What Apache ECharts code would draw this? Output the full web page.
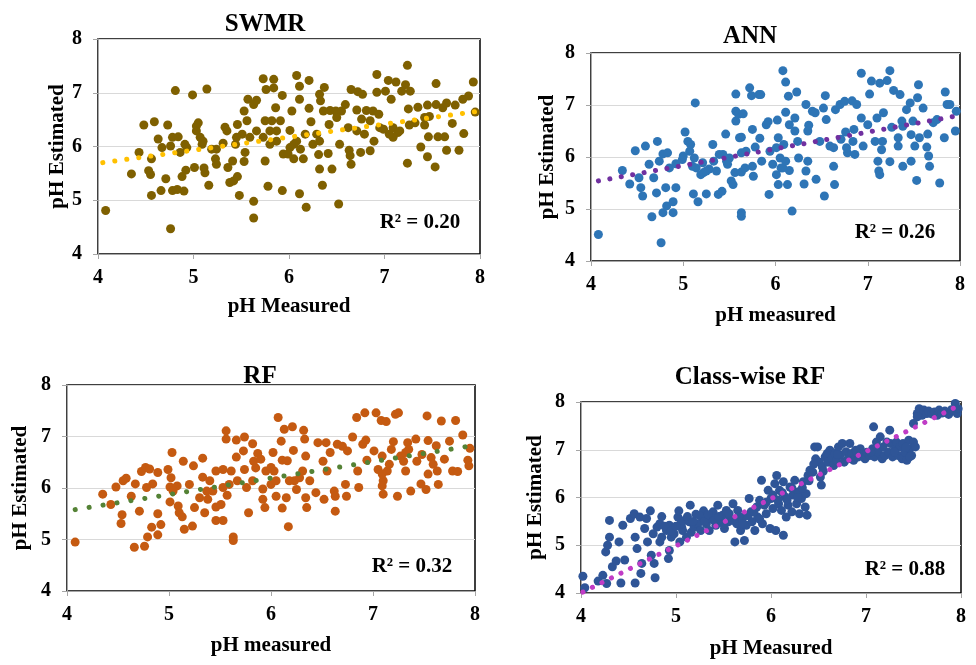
<!DOCTYPE html>
<html>
<head>
<meta charset="utf-8">
<script src="https://cdn.jsdelivr.net/npm/echarts@6/dist/echarts.min.js"></script>
<style>
    html, body { margin: 0; padding: 0; background: #fff; }
    #chart { width: 976px; height: 665px; }
</style>
</head>
<body>
<div id="chart"></div>
<script>
//panel titles and axis names
const titles = ["SWMR", "ANN", "RF", "Class-wise RF"];
const xNames = ["pH Measured", "pH measured", "pH measured", "pH Measured"];
const yName = "pH Estimated";
const r2Labels = ["R² = 0.20", "R² = 0.26", "R² = 0.32", "R² = 0.88"];
const ticks = [4, 5, 6, 7, 8];

//SWMR - [measured, estimated]
const swmrPoints = [
    [4.08, 4.81], [4.76, 4.47], [4.35, 5.49], [4.56, 5.77], [4.55, 5.48], [4.53, 5.55], [4.43, 5.89], [4.48, 6.40],
    [4.59, 6.46], [4.73, 6.40], [4.81, 7.04], [4.63, 6.14], [4.67, 5.98], [4.76, 6.01], [4.78, 6.17], [4.84, 6.18],
    [4.86, 5.89], [4.91, 6.04], [4.93, 5.98], [4.56, 5.09], [4.66, 5.18], [4.71, 5.40], [4.78, 5.18], [4.83, 5.20],
    [4.90, 5.17], [4.88, 5.44], [4.92, 5.56], [4.99, 6.96], [5.01, 5.61], [5.03, 6.29], [5.03, 6.38], [5.05, 6.44],
    [5.07, 6.17], [5.09, 6.04], [5.10, 6.10], [5.14, 7.07], [5.11, 5.60], [5.12, 5.51], [5.16, 5.28], [5.19, 5.95],
    [5.23, 5.77], [5.24, 5.67], [5.31, 6.06], [5.33, 6.36], [5.36, 5.61], [5.38, 5.33], [5.42, 5.36], [5.41, 5.73],
    [5.44, 6.04], [5.46, 6.41], [5.46, 5.44], [5.48, 5.09], [5.53, 6.66], [5.54, 5.89], [5.53, 5.72], [5.56, 6.48],
    [5.57, 6.88], [5.63, 6.78], [5.66, 6.86], [5.63, 4.98], [5.63, 4.67], [5.73, 7.26], [5.75, 6.48], [5.75, 5.73],
    [5.76, 7.06], [5.78, 5.26], [5.80, 6.04], [5.82, 6.48], [5.84, 7.25], [5.84, 7.09], [5.86, 6.72], [5.87, 6.29],
    [5.91, 6.48], [5.93, 6.95], [5.93, 5.18], [5.94, 5.86], [6.01, 6.30], [6.03, 6.66], [6.05, 6.04], [6.05, 5.77],
    [6.08, 7.32], [6.11, 7.12], [6.11, 6.88], [6.11, 5.12], [6.15, 5.77], [6.17, 6.23], [6.18, 4.87], [6.21, 6.71],
    [6.21, 7.23], [6.23, 6.46], [6.25, 6.04], [6.31, 5.85], [6.32, 6.97], [6.33, 6.85], [6.32, 5.58], [6.35, 5.28],
    [6.37, 7.10], [6.41, 5.87], [6.42, 6.41], [6.43, 6.67], [6.45, 5.58], [6.49, 6.66], [6.53, 6.04], [6.52, 4.93],
    [6.55, 6.66], [6.59, 6.78], [6.62, 6.35], [6.63, 5.93], [6.64, 5.83], [6.65, 5.67], [6.65, 7.06], [6.71, 6.68],
    [6.72, 7.02], [6.77, 6.97], [6.76, 6.51], [6.75, 5.89], [6.79, 6.23], [6.81, 6.67], [6.85, 5.92], [6.88, 6.66],
    [6.89, 6.10], [6.92, 7.34], [6.92, 7.01], [6.94, 6.60], [7.01, 7.03], [7.04, 7.23], [7.07, 6.88], [7.09, 6.35],
    [7.09, 6.17], [7.12, 7.20], [7.14, 6.26], [7.18, 7.03], [7.22, 7.15], [7.24, 7.51], [7.25, 6.70], [7.24, 5.69],
    [7.27, 7.03], [7.32, 6.44], [7.35, 6.73], [7.38, 5.99], [7.42, 6.40], [7.45, 6.77], [7.45, 5.81], [7.46, 6.18],
    [7.53, 5.62], [7.54, 7.17], [7.54, 6.78], [7.56, 6.18], [7.61, 6.72], [7.63, 6.18], [7.65, 5.93], [7.65, 6.81],
    [7.71, 6.43], [7.74, 6.77], [7.78, 5.93], [7.82, 6.88], [7.83, 6.24], [7.88, 6.94], [7.93, 7.20], [7.95, 6.64],
    [7.42, 6.54], [7.26, 6.40], [7.47, 6.56], [7.16, 6.29], [7.05, 6.23], [6.99, 6.32], [5.80, 6.29], [5.73, 6.17],
    [6.01, 5.98], [6.08, 6.10], [6.12, 5.95], [5.99, 5.86], [5.87, 6.10], [5.66, 6.29], [5.59, 6.17], [5.51, 6.23],
    [5.45, 6.17], [5.35, 6.29], [5.24, 5.95], [6.36, 6.66], [6.50, 6.54], [6.71, 6.29], [6.85, 6.48], [6.95, 6.35],
    [6.29, 6.23], [6.32, 6.10]
];

//ANN - [measured, estimated]
const annPoints = [
    [4.08, 4.51], [4.76, 4.35], [4.34, 5.74], [4.42, 5.48], [4.48, 6.12], [4.52, 5.60], [4.54, 5.41], [4.56, 5.25],
    [4.59, 6.21], [4.63, 5.86], [4.66, 4.85], [4.68, 5.60], [4.71, 5.31], [4.72, 6.30], [4.74, 5.92], [4.78, 4.93],
    [4.81, 5.41], [4.82, 5.06], [4.78, 6.06], [4.83, 6.08], [4.89, 4.93], [4.89, 5.14], [4.92, 5.41], [4.85, 5.79],
    [4.92, 5.87], [4.99, 5.95], [5.00, 6.02], [5.02, 6.48], [5.05, 6.30], [5.07, 6.11], [5.08, 6.24], [5.10, 5.82],
    [5.11, 5.29], [5.13, 7.04], [5.14, 5.79], [5.16, 5.14], [5.19, 5.66], [5.22, 5.70], [5.25, 5.29], [5.28, 5.77],
    [5.32, 6.24], [5.33, 5.92], [5.36, 5.73], [5.38, 5.28], [5.42, 5.34], [5.43, 6.05], [5.46, 6.44], [5.48, 5.86],
    [5.50, 5.98], [5.52, 5.54], [5.54, 5.47], [5.56, 5.70], [5.57, 7.21], [5.57, 6.88], [5.57, 6.69], [5.60, 6.82],
    [5.63, 6.38], [5.63, 6.08], [5.63, 5.71], [5.63, 4.93], [5.63, 4.86], [5.65, 6.83], [5.68, 6.11], [5.72, 7.33],
    [5.74, 7.18], [5.75, 6.53], [5.75, 5.82], [5.76, 5.63], [5.78, 6.19], [5.82, 7.20], [5.84, 7.20], [5.83, 6.36],
    [5.85, 5.92], [5.90, 6.62], [5.92, 6.68], [5.93, 5.28], [5.94, 6.11], [5.97, 5.86], [6.01, 6.18], [6.02, 6.71],
    [6.03, 6.37], [6.03, 5.47], [6.05, 5.98], [6.06, 5.79], [6.08, 7.66], [6.09, 6.24], [6.11, 7.44], [6.11, 6.86],
    [6.13, 5.47], [6.14, 7.17], [6.15, 5.74], [6.15, 6.62], [6.18, 4.96], [6.21, 6.50], [6.23, 7.25], [6.24, 6.30],
    [6.25, 5.98], [6.21, 6.75], [6.31, 5.48], [6.33, 7.01], [6.33, 5.73], [6.35, 6.50], [6.36, 6.61], [6.35, 5.92],
    [6.40, 6.88], [6.43, 6.85], [6.44, 5.57], [6.48, 6.30], [6.53, 5.25], [6.52, 6.94], [6.54, 7.18], [6.55, 6.72],
    [6.59, 6.21], [6.63, 5.82], [6.64, 5.47], [6.65, 6.91], [6.70, 7.01], [6.71, 6.34], [6.75, 7.07], [6.76, 6.48],
    [6.78, 6.08], [6.83, 7.08], [6.85, 6.53], [6.86, 6.05], [6.88, 7.01], [6.93, 7.61], [6.93, 6.75], [6.95, 6.21],
    [7.00, 6.62], [7.02, 7.21], [7.04, 7.46], [7.08, 6.30], [7.10, 6.75], [7.11, 5.92], [7.12, 5.73], [7.13, 7.42],
    [7.15, 6.14], [7.17, 6.85], [7.21, 7.47], [7.24, 7.66], [7.24, 5.91], [7.26, 6.57], [7.28, 7.28], [7.33, 6.37],
    [7.33, 6.21], [7.35, 7.20], [7.38, 6.59], [7.38, 5.82], [7.42, 6.91], [7.46, 7.04], [7.47, 5.92], [7.47, 6.43],
    [7.51, 6.21], [7.53, 5.55], [7.54, 7.14], [7.55, 7.39], [7.56, 6.37], [7.60, 6.94], [7.64, 6.19], [7.66, 6.02],
    [7.67, 5.82], [7.65, 6.44], [7.71, 6.66], [7.78, 5.50], [7.83, 6.37], [7.84, 7.25], [7.86, 7.01], [7.89, 7.01],
    [7.95, 6.50], [7.96, 6.88], [7.75, 6.72], [7.49, 6.69], [7.37, 6.69], [7.13, 5.66], [7.16, 6.30], [6.84, 6.30],
    [6.77, 6.18], [6.63, 6.18], [6.01, 5.66], [6.08, 5.79], [6.11, 5.92], [5.67, 5.79], [5.61, 6.37], [5.39, 6.05],
    [5.47, 5.92], [5.21, 5.89], [5.25, 5.73], [5.12, 5.98]
];

//RF - [measured, estimated]
const rfPoints = [
    [4.08, 4.95], [4.35, 5.88], [4.43, 5.68], [4.48, 6.02], [4.55, 6.14], [4.58, 6.19], [4.54, 5.48], [4.53, 5.31],
    [4.63, 5.84], [4.66, 4.85], [4.67, 6.08], [4.71, 5.55], [4.73, 6.32], [4.76, 4.87], [4.77, 6.40], [4.79, 5.05],
    [4.81, 6.37], [4.83, 5.24], [4.84, 6.08], [4.89, 6.30], [4.89, 5.50], [4.89, 5.09], [4.92, 5.29], [4.99, 6.36],
    [5.01, 6.02], [5.01, 5.73], [5.02, 6.20], [5.03, 6.69], [5.08, 6.04], [5.09, 5.65], [5.10, 5.52], [5.13, 5.44],
    [5.14, 6.52], [5.15, 5.20], [5.20, 6.07], [5.23, 5.26], [5.24, 6.43], [5.25, 5.62], [5.30, 5.81], [5.33, 6.58],
    [5.33, 6.21], [5.35, 5.52], [5.38, 5.78], [5.40, 6.14], [5.43, 5.94], [5.46, 6.33], [5.46, 5.63], [5.46, 5.37],
    [5.51, 5.68], [5.53, 5.37], [5.53, 6.36], [5.56, 7.11], [5.56, 6.95], [5.57, 5.86], [5.61, 6.33], [5.63, 5.05],
    [5.63, 4.98], [5.66, 6.93], [5.66, 6.60], [5.67, 6.14], [5.73, 6.72], [5.74, 6.99], [5.74, 6.36], [5.76, 6.01],
    [5.78, 5.52], [5.82, 6.86], [5.83, 6.52], [5.85, 6.39], [5.87, 6.67], [5.90, 6.56], [5.92, 5.78], [5.94, 5.62],
    [5.95, 6.33], [6.00, 6.07], [6.02, 6.69], [6.03, 6.33], [6.05, 5.84], [6.07, 7.37], [6.10, 6.91], [6.11, 6.54],
    [6.11, 5.61], [6.13, 7.14], [6.15, 5.81], [6.16, 6.53], [6.17, 5.25], [6.21, 7.19], [6.22, 6.73], [6.23, 6.14],
    [6.25, 5.97], [6.31, 6.33], [6.32, 7.12], [6.33, 6.95], [6.34, 6.62], [6.34, 5.81], [6.35, 5.62], [6.38, 6.14],
    [6.44, 5.91], [6.46, 6.88], [6.51, 6.52], [6.52, 5.78], [6.54, 6.88], [6.55, 6.33], [6.58, 6.69], [6.62, 5.94],
    [6.63, 5.55], [6.63, 5.84], [6.65, 6.85], [6.70, 6.81], [6.73, 6.07], [6.74, 5.84], [6.75, 6.72], [6.80, 6.99],
    [6.84, 7.37], [6.85, 6.33], [6.86, 6.01], [6.90, 6.85], [6.92, 7.46], [6.93, 6.93], [6.94, 6.54], [7.01, 6.72],
    [7.03, 7.46], [7.05, 6.36], [7.08, 7.31], [7.09, 6.62], [7.10, 6.14], [7.10, 5.88], [7.13, 7.29], [7.14, 6.33],
    [7.18, 6.75], [7.20, 6.90], [7.22, 7.43], [7.24, 5.84], [7.25, 7.46], [7.27, 6.62], [7.30, 6.52], [7.32, 6.33],
    [7.34, 6.88], [7.35, 6.75], [7.37, 5.94], [7.42, 6.95], [7.43, 6.52], [7.47, 6.08], [7.52, 5.97], [7.53, 7.40],
    [7.54, 6.92], [7.54, 6.27], [7.57, 6.59], [7.62, 6.82], [7.63, 6.33], [7.64, 6.07], [7.67, 7.30], [7.70, 6.56],
    [7.75, 6.91], [7.78, 6.33], [7.81, 7.31], [7.83, 6.32], [7.88, 7.03], [7.93, 6.54], [7.94, 6.43], [7.95, 6.77],
    [7.09, 6.27], [7.09, 6.04], [7.16, 6.46], [7.32, 6.69], [7.48, 6.65], [7.59, 6.46], [6.00, 6.40], [6.05, 6.14],
    [6.18, 6.14], [6.28, 6.20], [5.92, 5.98], [5.82, 6.14], [5.59, 6.07], [5.53, 6.01], [5.37, 5.94], [5.04, 5.94],
    [4.78, 6.01]
];

//Class-wise RF - [measured, estimated]
const classRfPoints = [
    [4.02, 4.35], [4.04, 4.11], [4.18, 4.25], [4.23, 4.37], [4.27, 4.20], [4.26, 4.86], [4.28, 5.00], [4.30, 5.52],
    [4.30, 5.17], [4.33, 4.55], [4.37, 4.67], [4.40, 5.07], [4.42, 4.21], [4.44, 5.42], [4.46, 4.69], [4.52, 5.56],
    [4.56, 5.66], [4.57, 5.17], [4.57, 4.21], [4.59, 4.93], [4.62, 5.59], [4.63, 4.41], [4.64, 4.62], [4.67, 5.35],
    [4.69, 5.56], [4.70, 5.07], [4.73, 5.72], [4.74, 4.79], [4.76, 5.24], [4.77, 4.62], [4.78, 4.32], [4.80, 5.38],
    [4.83, 5.45], [4.83, 5.07], [4.85, 5.17], [4.90, 5.31], [4.92, 4.72], [4.93, 4.89], [4.93, 5.42], [4.95, 5.17],
    [4.98, 5.24], [5.02, 5.59], [5.03, 5.72], [5.04, 5.07], [5.06, 5.38], [5.07, 5.31], [5.09, 5.52], [5.11, 5.17],
    [5.14, 5.49], [5.15, 5.84], [5.16, 5.27], [5.19, 5.38], [5.21, 5.65], [5.23, 5.45], [5.26, 5.31], [5.28, 5.59],
    [5.29, 5.72], [5.32, 5.45], [5.35, 5.31], [5.37, 5.56], [5.39, 5.70], [5.42, 5.42], [5.44, 5.84], [5.47, 5.49],
    [5.49, 5.63], [5.51, 5.35], [5.53, 5.73], [5.55, 5.49], [5.57, 5.56], [5.60, 5.87], [5.62, 5.07], [5.64, 5.45],
    [5.65, 5.73], [5.68, 5.31], [5.71, 5.59], [5.72, 5.10], [5.74, 5.42], [5.77, 5.98], [5.79, 5.70], [5.80, 5.49],
    [5.83, 5.31], [5.85, 5.80], [5.86, 5.59], [5.88, 5.94], [5.90, 6.36], [5.91, 5.45], [5.93, 5.84], [5.95, 5.66],
    [5.97, 6.15], [5.99, 5.35], [6.00, 5.98], [6.02, 5.77], [6.04, 6.29], [6.05, 5.31], [6.06, 6.46], [6.08, 5.87],
    [6.09, 6.15], [6.11, 5.73], [6.13, 5.21], [6.13, 6.33], [6.15, 6.01], [6.16, 5.59], [6.18, 5.84], [6.20, 6.22],
    [6.22, 5.70], [6.23, 6.05], [6.25, 6.36], [6.27, 5.87], [6.29, 6.12], [6.30, 5.66], [6.32, 5.98], [6.34, 6.33],
    [6.36, 5.80], [6.37, 6.08], [6.38, 5.63], [6.39, 6.46], [6.41, 6.57], [6.44, 6.53], [6.46, 7.06], [6.47, 6.81],
    [6.49, 7.06], [6.51, 6.74], [6.52, 6.43], [6.53, 6.26], [6.54, 6.64], [6.57, 6.85], [6.59, 6.92], [6.60, 6.74],
    [6.62, 6.99], [6.64, 6.81], [6.66, 6.67], [6.67, 6.92], [6.69, 6.78], [6.71, 7.06], [6.73, 6.89], [6.75, 7.13],
    [6.77, 6.74], [6.79, 6.96], [6.81, 6.81], [6.83, 7.13], [6.85, 6.92], [6.87, 6.78], [6.89, 6.99], [6.92, 6.85],
    [6.94, 7.02], [6.97, 6.92], [6.99, 6.81], [7.01, 6.95], [7.04, 6.88], [7.07, 7.02], [7.08, 7.48], [7.09, 6.85],
    [7.11, 7.16], [7.13, 6.95], [7.15, 7.27], [7.17, 6.81], [7.18, 7.06], [7.20, 6.88], [7.22, 7.16], [7.24, 6.95],
    [7.25, 7.41], [7.26, 7.13], [7.28, 6.85], [7.31, 7.02], [7.32, 7.16], [7.34, 6.88], [7.36, 7.06], [7.38, 6.81],
    [7.39, 7.13], [7.41, 6.95], [7.43, 6.78], [7.45, 7.20], [7.46, 7.02], [7.48, 6.88], [7.50, 7.16], [7.52, 7.06],
    [7.46, 6.85], [7.54, 7.76], [7.56, 7.86], [7.59, 7.72], [7.61, 7.83], [7.64, 7.76], [7.66, 7.81], [7.69, 7.75],
    [7.72, 7.79], [7.75, 7.72], [7.77, 7.83], [7.80, 7.77], [7.83, 7.81], [7.87, 7.74], [7.90, 7.84], [7.94, 7.97],
    [7.96, 7.76], [7.97, 7.86], [7.54, 7.69], [7.50, 7.55],
    [5.05, 5.45], [5.12, 5.60], [5.18, 5.50], [5.25, 5.62], [5.30, 5.50], [5.34, 5.64], [5.40, 5.52], [5.45, 5.60],
    [5.50, 5.45], [5.56, 5.66], [5.60, 5.52], [5.66, 5.60], [5.70, 5.45], [5.76, 5.62], [5.82, 5.70], [5.88, 5.55],
    [5.95, 5.90], [6.02, 6.05], [6.07, 5.95], [6.12, 6.10], [6.17, 5.95], [6.22, 6.20], [6.28, 6.00], [6.33, 6.20],
    [6.40, 6.35], [6.45, 6.70], [6.55, 6.55], [6.70, 6.90], [6.90, 6.95], [7.05, 6.95], [7.30, 6.95], [7.42, 7.05],
    [4.88, 5.40], [4.95, 5.30], [4.85, 5.60], [5.00, 5.40]
];

//linear trend lines - start / end points
const swmrTrend = [[4.05, 5.70], [8.0, 6.66]];
const annTrend = [[4.08, 5.54], [8.0, 6.80]];
const rfTrend = [[4.08, 5.58], [8.0, 6.83]];
const classRfTrend = [[4.02, 4.02], [7.96, 7.91]];

//panel layout and colours
const font = "Liberation Serif";
const panels = [
    { points: swmrPoints, trend: swmrTrend, dot: "#7F6000", line: "#FFC000",
      grid: { left: 98, top: 39, width: 382, height: 215 }, title: [260, 7], r2: [420, 223], xGap: 42, yGap: 28, dash: [0.1, 12] },
    { points: annPoints, trend: annTrend, dot: "#2E75B6", line: "#7030A0",
      grid: { left: 591, top: 53, width: 369, height: 208 }, title: [745, 19], r2: [895, 233], xGap: 44, yGap: 33, dash: [0.1, 11.5] },
    { points: rfPoints, trend: rfTrend, dot: "#C55A11", line: "#548235",
      grid: { left: 67, top: 385, width: 408, height: 206 }, title: [255, 359], r2: [412, 567], xGap: 44, yGap: 36, dash: [0.1, 14] },
    { points: classRfPoints, trend: classRfTrend, dot: "#2F5597", line: "#C03CC6",
      grid: { left: 581, top: 402, width: 380, height: 191 }, title: [745, 360], r2: [905, 570], xGap: 45, yGap: 35, dash: [0.1, 10.5] }
];

const chart = echarts.init(document.getElementById("chart"), null, { renderer: "canvas" });

const boldText = (size) => ({ fontFamily: font, fontWeight: "bold", fontSize: size, color: "#000" });

const option = {
    animation: false,
    backgroundColor: "#fff",
    title: panels.map((p, i) => ({
        text: titles[i],
        left: p.title[0],
        top: p.title[1],
        textAlign: "center",
        textStyle: boldText(25)
    })),
    grid: panels.map(p => Object.assign({ show: true, borderColor: "#000", borderWidth: 1.5, backgroundColor: "#fff" }, p.grid)),
    xAxis: panels.map((p, i) => ({
        gridIndex: i,
        type: "value",
        min: ticks[0],
        max: ticks[ticks.length - 1],
        interval: 1,
        name: xNames[i],
        nameLocation: "middle",
        nameGap: p.xGap,
        nameTextStyle: boldText(21),
        axisLine: { show: true, onZero: false, lineStyle: { color: "#A6A6A6", width: 1 } },
        axisTick: { show: true, length: 5, lineStyle: { color: "#A6A6A6" } },
        axisLabel: Object.assign({ margin: 14 }, boldText(20)),
        splitLine: { show: false }
    })),
    yAxis: panels.map((p, i) => ({
        gridIndex: i,
        type: "value",
        min: ticks[0],
        max: ticks[ticks.length - 1],
        interval: 1,
        name: yName,
        nameLocation: "middle",
        nameGap: p.yGap,
        nameTextStyle: boldText(21),
        axisLine: { show: true, onZero: false, lineStyle: { color: "#A6A6A6", width: 1 } },
        axisTick: { show: true, length: 5, lineStyle: { color: "#A6A6A6" } },
        axisLabel: Object.assign({ margin: 16 }, boldText(20)),
        splitLine: { show: true, lineStyle: { color: "#D9D9D9", width: 1.2 } }
    })),
    series: panels.flatMap((p, i) => [
        {
            type: "scatter",
            xAxisIndex: i,
            yAxisIndex: i,
            data: p.points,
            symbolSize: 9,
            itemStyle: { color: p.dot, opacity: 1 }
        },
        {
            type: "line",
            xAxisIndex: i,
            yAxisIndex: i,
            data: p.trend,
            showSymbol: false,
            z: 3,
            lineStyle: { color: p.line, width: 5, type: p.dash, cap: "round" }
        }
    ]),
    graphic: panels.map((p, i) => ({
        type: "text",
        x: p.r2[0],
        y: p.r2[1],
        style: {
            text: r2Labels[i],
            font: `bold 21px "${font}"`,
            fill: "#000",
            align: "center",
            verticalAlign: "middle"
        }
    }))
};

chart.setOption(option);
</script>
</body>
</html>
